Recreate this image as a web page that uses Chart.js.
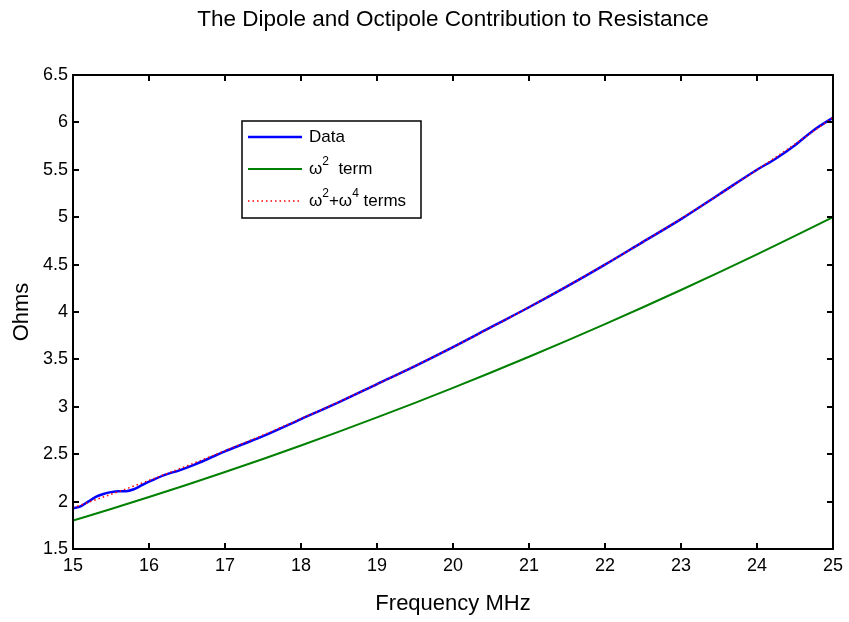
<!DOCTYPE html>
<html>
<head>
<meta charset="utf-8">
<title>Dipole and Octipole Contribution</title>
<script src="https://cdn.jsdelivr.net/npm/chart.js@4/dist/chart.umd.min.js"></script>
<style>
  html, body { margin: 0; padding: 0; background: #fff; }
  #wrap { width: 849px; height: 622px; }
</style>
</head>
<body>
<div id="wrap"><canvas id="chart"></canvas></div>
<script>
// measured resistance (ohms) vs frequency (MHz)
const dataFreq = [15, 15.1, 15.2, 15.3, 15.4, 15.5, 15.6, 15.7, 15.8, 15.9, 16, 16.2, 16.4, 16.6, 16.8, 17,
  17.25, 17.5, 18, 18.5, 19, 19.5, 20, 20.5, 21, 21.5, 22, 22.5, 23, 23.5, 24, 24.25, 24.5, 24.75, 25];
const dataOhms = [1.93, 1.95, 2.00, 2.05, 2.08, 2.10, 2.11, 2.11, 2.13, 2.17, 2.21, 2.28, 2.33, 2.39, 2.46, 2.53,
  2.61, 2.69, 2.87, 3.05, 3.24, 3.43, 3.63, 3.84, 4.05, 4.27, 4.50, 4.74, 4.98, 5.24, 5.50, 5.62, 5.76, 5.92, 6.05];

// fitted curves
const fitFreq = [15, 15.5, 16, 16.5, 17, 17.5, 18, 18.5, 19, 19.5, 20, 20.5, 21, 21.5, 22, 22.5, 23, 23.5, 24, 24.5, 25];
const dipoleOhms = [1.800, 1.922, 2.048, 2.178, 2.312, 2.450, 2.592, 2.738, 2.888, 3.042, 3.200,
  3.362, 3.528, 3.698, 3.872, 4.050, 4.232, 4.418, 4.608, 4.802, 5.000];
const bothOhms = [1.936, 2.077, 2.224, 2.377, 2.537, 2.702, 2.874, 3.053, 3.239, 3.431, 3.630,
  3.837, 4.051, 4.273, 4.502, 4.739, 4.985, 5.238, 5.500, 5.771, 6.051];

const seriesLabels = ['Data', 'ω^2  term', 'ω^2+ω^4 terms'];
const chartTitle = 'The Dipole and Octipole Contribution to Resistance';

function pairs(xs, ys) {
  return xs.map((x, i) => ({ x: x, y: ys[i] }));
}

const FONT = "'Liberation Sans', Arial, Helvetica, sans-serif";

// closed box with inward tick marks on all four sides
const boxAxes = {
  id: 'boxAxes',
  afterDatasetsDraw(chart) {
    const { ctx, chartArea: a, scales } = chart;
    const len = 6;
    ctx.save();
    ctx.strokeStyle = '#000';
    ctx.lineWidth = 2;
    ctx.beginPath();
    scales.x.ticks.forEach(t => {
      const px = Math.round(scales.x.getPixelForValue(t.value));
      ctx.moveTo(px, a.bottom); ctx.lineTo(px, a.bottom - len);
      ctx.moveTo(px, a.top); ctx.lineTo(px, a.top + len);
    });
    scales.y.ticks.forEach(t => {
      const py = Math.round(scales.y.getPixelForValue(t.value));
      ctx.moveTo(a.left, py); ctx.lineTo(a.left + len, py);
      ctx.moveTo(a.right, py); ctx.lineTo(a.right - len, py);
    });
    ctx.stroke();
    ctx.strokeRect(a.left, a.top, a.right - a.left, a.bottom - a.top);
    ctx.restore();
  }
};

// title centred over the plot box rather than the canvas
const plotTitle = {
  id: 'plotTitle',
  afterDraw(chart) {
    const { ctx, chartArea: a } = chart;
    ctx.save();
    ctx.font = '22.5px ' + FONT;
    ctx.fillStyle = '#000';
    ctx.textAlign = 'center';
    ctx.textBaseline = 'middle';
    ctx.fillText(chartTitle, (a.left + a.right) / 2, 20);
    ctx.restore();
  }
};

// draws "a^2" style labels with raised digits
function drawRich(ctx, text, x, y) {
  const parts = text.split(/\^(\d)/);
  let cx = x;
  parts.forEach((p, i) => {
    if (i % 2 === 1) {
      ctx.font = '12px ' + FONT;
      ctx.fillText(p, cx, y - 7);
    } else {
      ctx.font = '17px ' + FONT;
      ctx.fillText(p, cx, y);
    }
    cx += ctx.measureText(p).width;
  });
}

const boxLegend = {
  id: 'boxLegend',
  afterDraw(chart) {
    const { ctx, chartArea: a } = chart;
    const left = a.left + 169, top = a.top + 46, w = 179, h = 97;
    ctx.save();
    ctx.fillStyle = '#fff';
    ctx.fillRect(left, top, w, h);
    ctx.strokeStyle = '#000';
    ctx.lineWidth = 1.5;
    ctx.strokeRect(left, top, w, h);
    const order = [1, 2, 0];
    order.forEach((di, row) => {
      const ds = chart.data.datasets[di];
      const y = top + 16 + row * 32;
      ctx.beginPath();
      ctx.strokeStyle = ds.borderColor;
      ctx.lineWidth = ds.borderWidth;
      ctx.setLineDash(ds.borderDash || []);
      ctx.moveTo(left + 6, y);
      ctx.lineTo(left + 60, y);
      ctx.stroke();
      ctx.setLineDash([]);
      ctx.fillStyle = '#000';
      ctx.textBaseline = 'middle';
      drawRich(ctx, ds.label, left + 67, y);
    });
    ctx.restore();
  }
};

new Chart(document.getElementById('chart'), {
  type: 'scatter',
  data: {
    datasets: [
      {
        label: seriesLabels[2],
        data: pairs(fitFreq, bothOhms),
        showLine: true,
        borderColor: '#ff0000',
        borderWidth: 1.5,
        borderDash: [1.5, 3],
        pointRadius: 0,
        cubicInterpolationMode: 'monotone',
        order: 0
      },
      {
        label: seriesLabels[0],
        data: pairs(dataFreq, dataOhms),
        showLine: true,
        borderColor: '#0000ff',
        borderWidth: 2.5,
        pointRadius: 0,
        cubicInterpolationMode: 'monotone',
        order: 2
      },
      {
        label: seriesLabels[1],
        data: pairs(fitFreq, dipoleOhms),
        showLine: true,
        borderColor: '#008000',
        borderWidth: 2,
        pointRadius: 0,
        cubicInterpolationMode: 'monotone',
        order: 1
      }
    ]
  },
  options: {
    responsive: true,
    maintainAspectRatio: false,
    animation: false,
    layout: { padding: { left: 0, right: 15, top: 75, bottom: 0 } },
    plugins: {
      legend: { display: false },
      tooltip: { enabled: false },
      title: { display: false }
    },
    scales: {
      x: {
        type: 'linear',
        min: 15, max: 25,
        grid: { display: false, drawTicks: false },
        border: { display: false },
        ticks: { stepSize: 1, color: '#000', padding: 6, font: { family: FONT, size: 18 } },
        title: {
          display: true, text: 'Frequency MHz', color: '#000',
          font: { family: FONT, size: 22 },
          padding: { top: 0, bottom: 4.8 }
        },
        afterFit(s) { s.height = 73; }
      },
      y: {
        min: 1.5, max: 6.5,
        grid: { display: false, drawTicks: false },
        border: { display: false },
        ticks: {
          stepSize: 0.5, color: '#000', padding: 5, font: { family: FONT, size: 18 },
          callback: v => String(v)
        },
        title: {
          display: true, text: 'Ohms', color: '#000',
          font: { family: FONT, size: 22 },
          padding: { top: 8.8, bottom: 0 }
        },
        afterFit(s) { s.width = 73; }
      }
    }
  },
  plugins: [boxAxes, boxLegend, plotTitle]
});
</script>
</body>
</html>
